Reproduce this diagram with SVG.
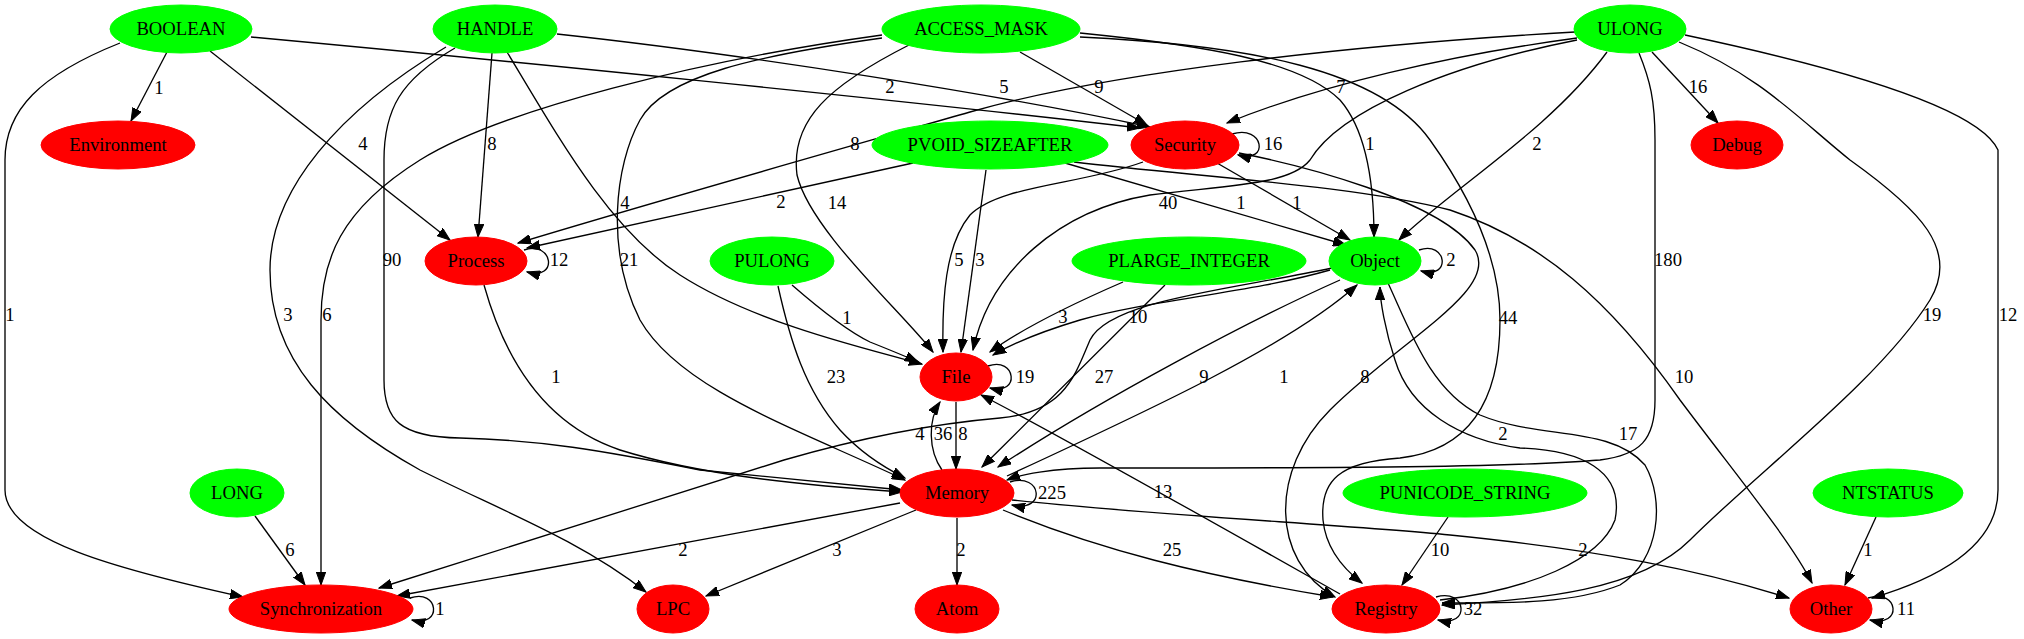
<svg xmlns="http://www.w3.org/2000/svg" width="2024" height="639" viewBox="0 0 2024 639">
<style>
.g{fill:#00ff00;stroke:#00ff00}
.r{fill:#ff0000;stroke:#ff0000}
text{font-family:"Liberation Serif","Times New Roman",serif;font-size:18.67px;text-anchor:middle;fill:#000}
#edges path{fill:none;stroke:#000;stroke-width:1.33;marker-end:url(#a)}
</style>
<defs>
<marker id="a" markerWidth="14" markerHeight="10" refX="13" refY="5" orient="auto" markerUnits="userSpaceOnUse"><path d="M0,0.3 L13,5 L0,9.7 z" fill="#000" stroke="#000" stroke-width="1"/></marker>
</defs>
<rect width="2024" height="639" fill="#fff"/>
<g id="edges">
<path d="M167,52 L131,121"/>
<path d="M210,51 L450,240"/>
<path d="M251,37 C500,60 900,100 1140,128"/>
<path d="M120,43 C40,75 5,110 5,160 L5,490 C5,540 120,570 243,597"/>
<path d="M492,53 L478,237"/>
<path d="M557,34 C750,55 1000,95 1150,127"/>
<path d="M507,52 C560,140 610,230 680,275 C750,320 850,345 922,364"/>
<path d="M446,47 C340,110 270,190 270,270 C270,360 330,420 420,470 C500,510 580,540 646,592"/>
<path d="M455,48 C400,80 384,110 384,160 L384,380 C384,420 400,437 460,438 C540,440 600,450 700,470 L902,490"/>
<path d="M1020,52 L1147,125"/>
<path d="M909,45 C830,85 790,120 797,175 C810,230 900,310 933,352"/>
<path d="M882,38 C760,55 665,75 640,120 C615,165 605,250 640,320 C680,390 800,430 905,480"/>
<path d="M882,35 C700,60 500,110 420,160 C340,210 321,260 321,320 L321,585"/>
<path d="M1080,33 C1200,45 1300,60 1340,100 C1366,130 1374,180 1374,237"/>
<path d="M1080,37 C1250,45 1380,70 1430,140 C1480,210 1500,270 1500,320 C1500,400 1470,450 1400,458 C1340,462 1320,480 1323,520 C1326,550 1345,570 1362,583"/>
<path d="M1577,38 C1450,55 1320,85 1227,123"/>
<path d="M1652,52 L1718,123"/>
<path d="M1607,52 C1550,130 1450,190 1399,240"/>
<path d="M1575,32 C1350,45 1110,72 970,112 C830,152 650,203 518,243"/>
<path d="M1577,40 C1450,65 1340,110 1310,160 C1290,185 1230,185 1150,195 C1060,210 990,270 973,350"/>
<path d="M1639,53 C1650,80 1655,100 1655,140 L1655,400 C1655,440 1640,455 1600,460 C1500,468 1300,468 1100,468 C1050,468 1020,475 1007,480"/>
<path d="M1679,42 C1760,75 1800,120 1850,160 C1920,210 1960,250 1930,300 C1880,380 1760,470 1690,540 C1640,590 1540,600 1442,605"/>
<path d="M1685,35 C1850,70 1980,110 1998,150 L1998,490 C1998,540 1950,575 1872,598"/>
<path d="M913,163 L527,248"/>
<path d="M986,170 L961,352"/>
<path d="M1065,163 L1346,245"/>
<path d="M1074,162 C1200,177 1350,185 1450,210 C1540,240 1610,300 1680,400 C1740,480 1790,540 1812,583"/>
<path d="M1232,134 C1264,124 1270,164 1238,155"/>
<path d="M1143,162 C1080,185 1000,185 970,215 C945,245 942,300 943,352"/>
<path d="M1217,163 L1350,240"/>
<path d="M1239,153 C1300,165 1440,200 1475,250 C1500,290 1400,340 1330,410 C1270,470 1270,560 1335,597"/>
<path d="M1419,250 C1447,240 1452,280 1421,271"/>
<path d="M1330,270 C1250,293 1150,300 1080,320 C1040,332 1010,345 993,355"/>
<path d="M1332,268 C1230,290 1110,300 1090,340 C1075,375 1065,412 1000,418 C930,424 860,438 784,460 L379,588"/>
<path d="M1340,280 C1250,320 1100,400 998,467"/>
<path d="M1007,476 C1150,410 1290,345 1357,285"/>
<path d="M1388,283 C1410,330 1430,390 1480,415 C1540,440 1610,425 1645,465 C1665,500 1660,560 1620,585 C1570,605 1500,603 1442,603"/>
<path d="M1440,600 C1530,590 1600,560 1615,520 C1625,470 1580,450 1520,448 C1460,440 1410,410 1395,360 C1385,330 1380,300 1380,287"/>
<path d="M524,250 C553,240 559,281 527,272"/>
<path d="M484,285 C505,360 545,425 620,450 C700,475 800,485 902,492"/>
<path d="M988,366 C1016,356 1021,396 990,388"/>
<path d="M956,402 L956,469"/>
<path d="M942,470 C928,450 928,420 940,402"/>
<path d="M1010,482 C1042,472 1047,513 1012,505"/>
<path d="M900,503 L397,596"/>
<path d="M916,510 L706,596"/>
<path d="M957,518 L957,585"/>
<path d="M1003,510 C1100,550 1200,575 1333,597"/>
<path d="M1012,500 C1150,515 1350,525 1450,535 C1600,550 1700,570 1789,598"/>
<path d="M1436,597 C1467,588 1471,628 1438,620"/>
<path d="M1340,594 C1200,515 1050,430 981,395"/>
<path d="M792,285 C815,305 845,330 870,342 C890,350 905,356 918,362"/>
<path d="M778,286 C790,340 805,390 840,430 C860,452 885,468 905,478"/>
<path d="M1123,282 C1070,305 1020,330 990,352"/>
<path d="M1165,285 C1120,330 1050,400 982,467"/>
<path d="M255,516 L305,585"/>
<path d="M1448,517 L1402,585"/>
<path d="M1876,517 L1845,585"/>
<path d="M1868,598 C1899,588 1903,628 1870,620"/>
<path d="M410,598 C439,588 443,628 412,620"/>
</g>
<g id="edge-labels">
<text x="159" y="94">1</text>
<text x="363" y="150">4</text>
<text x="890" y="93">2</text>
<text x="10" y="321">1</text>
<text x="492" y="150">8</text>
<text x="1004" y="93">5</text>
<text x="625" y="209">4</text>
<text x="288" y="321">3</text>
<text x="392" y="266">90</text>
<text x="1099" y="93">9</text>
<text x="837" y="209">14</text>
<text x="629" y="266">21</text>
<text x="327" y="321">6</text>
<text x="1370" y="150">1</text>
<text x="1508" y="324">44</text>
<text x="1341" y="93">7</text>
<text x="1698" y="93">16</text>
<text x="1537" y="150">2</text>
<text x="855" y="150">8</text>
<text x="1168" y="209">40</text>
<text x="1668" y="266">180</text>
<text x="1932" y="321">19</text>
<text x="2008" y="321">12</text>
<text x="781" y="208">2</text>
<text x="980" y="266">3</text>
<text x="1241" y="209">1</text>
<text x="1684" y="383">10</text>
<text x="1273" y="150">16</text>
<text x="959" y="266">5</text>
<text x="1297" y="209">1</text>
<text x="1365" y="383">8</text>
<text x="1451" y="266">2</text>
<text x="1138" y="323">10</text>
<text x="920" y="440">4</text>
<text x="1204" y="383">9</text>
<text x="1284" y="383">1</text>
<text x="1628" y="440">17</text>
<text x="1503" y="440">2</text>
<text x="559" y="266">12</text>
<text x="556" y="383">1</text>
<text x="1025" y="383">19</text>
<text x="963" y="440">8</text>
<text x="943" y="440">36</text>
<text x="1052" y="499">225</text>
<text x="683" y="556">2</text>
<text x="837" y="556">3</text>
<text x="961" y="556">2</text>
<text x="1172" y="556">25</text>
<text x="1583" y="556">2</text>
<text x="1473" y="615">32</text>
<text x="1163" y="498">13</text>
<text x="847" y="324">1</text>
<text x="836" y="383">23</text>
<text x="1063" y="323">3</text>
<text x="1104" y="383">27</text>
<text x="290" y="556">6</text>
<text x="1440" y="556">10</text>
<text x="1868" y="556">1</text>
<text x="1906" y="615">11</text>
<text x="440" y="615">1</text>
</g>
<g id="BOOLEAN"><ellipse class="g" cx="181" cy="29" rx="71" ry="24"/><text x="181" y="35">BOOLEAN</text></g>
<g id="HANDLE"><ellipse class="g" cx="495" cy="29" rx="62" ry="24"/><text x="495" y="35">HANDLE</text></g>
<g id="ACCESS_MASK"><ellipse class="g" cx="981" cy="29" rx="99" ry="24"/><text x="981" y="35">ACCESS_MASK</text></g>
<g id="ULONG"><ellipse class="g" cx="1630" cy="29" rx="56" ry="24"/><text x="1630" y="35">ULONG</text></g>
<g id="Environment"><ellipse class="r" cx="118" cy="145" rx="77" ry="24"/><text x="118" y="151">Environment</text></g>
<g id="PVOID_SIZEAFTER"><ellipse class="g" cx="990" cy="145" rx="118" ry="24"/><text x="990" y="151">PVOID_SIZEAFTER</text></g>
<g id="Security"><ellipse class="r" cx="1185" cy="145" rx="54" ry="24"/><text x="1185" y="151">Security</text></g>
<g id="Debug"><ellipse class="r" cx="1737" cy="145" rx="46" ry="24"/><text x="1737" y="151">Debug</text></g>
<g id="Process"><ellipse class="r" cx="476" cy="261" rx="51" ry="24"/><text x="476" y="267">Process</text></g>
<g id="PULONG"><ellipse class="g" cx="772" cy="261" rx="62" ry="24"/><text x="772" y="267">PULONG</text></g>
<g id="PLARGE_INTEGER"><ellipse class="g" cx="1189" cy="261" rx="117" ry="24"/><text x="1189" y="267">PLARGE_INTEGER</text></g>
<g id="Object"><ellipse class="g" cx="1375" cy="261" rx="46" ry="24"/><text x="1375" y="267">Object</text></g>
<g id="File"><ellipse class="r" cx="956" cy="377" rx="36" ry="24"/><text x="956" y="383">File</text></g>
<g id="LONG"><ellipse class="g" cx="237" cy="493" rx="47" ry="24"/><text x="237" y="499">LONG</text></g>
<g id="Memory"><ellipse class="r" cx="957" cy="493" rx="57" ry="24"/><text x="957" y="499">Memory</text></g>
<g id="PUNICODE_STRING"><ellipse class="g" cx="1465" cy="493" rx="122" ry="24"/><text x="1465" y="499">PUNICODE_STRING</text></g>
<g id="NTSTATUS"><ellipse class="g" cx="1888" cy="493" rx="75" ry="24"/><text x="1888" y="499">NTSTATUS</text></g>
<g id="Synchronization"><ellipse class="r" cx="321" cy="609" rx="92" ry="24"/><text x="321" y="615">Synchronization</text></g>
<g id="LPC"><ellipse class="r" cx="673" cy="609" rx="36" ry="24"/><text x="673" y="615">LPC</text></g>
<g id="Atom"><ellipse class="r" cx="957" cy="609" rx="42" ry="24"/><text x="957" y="615">Atom</text></g>
<g id="Registry"><ellipse class="r" cx="1386" cy="609" rx="54" ry="24"/><text x="1386" y="615">Registry</text></g>
<g id="Other"><ellipse class="r" cx="1831" cy="609" rx="41" ry="24"/><text x="1831" y="615">Other</text></g>
</svg>
